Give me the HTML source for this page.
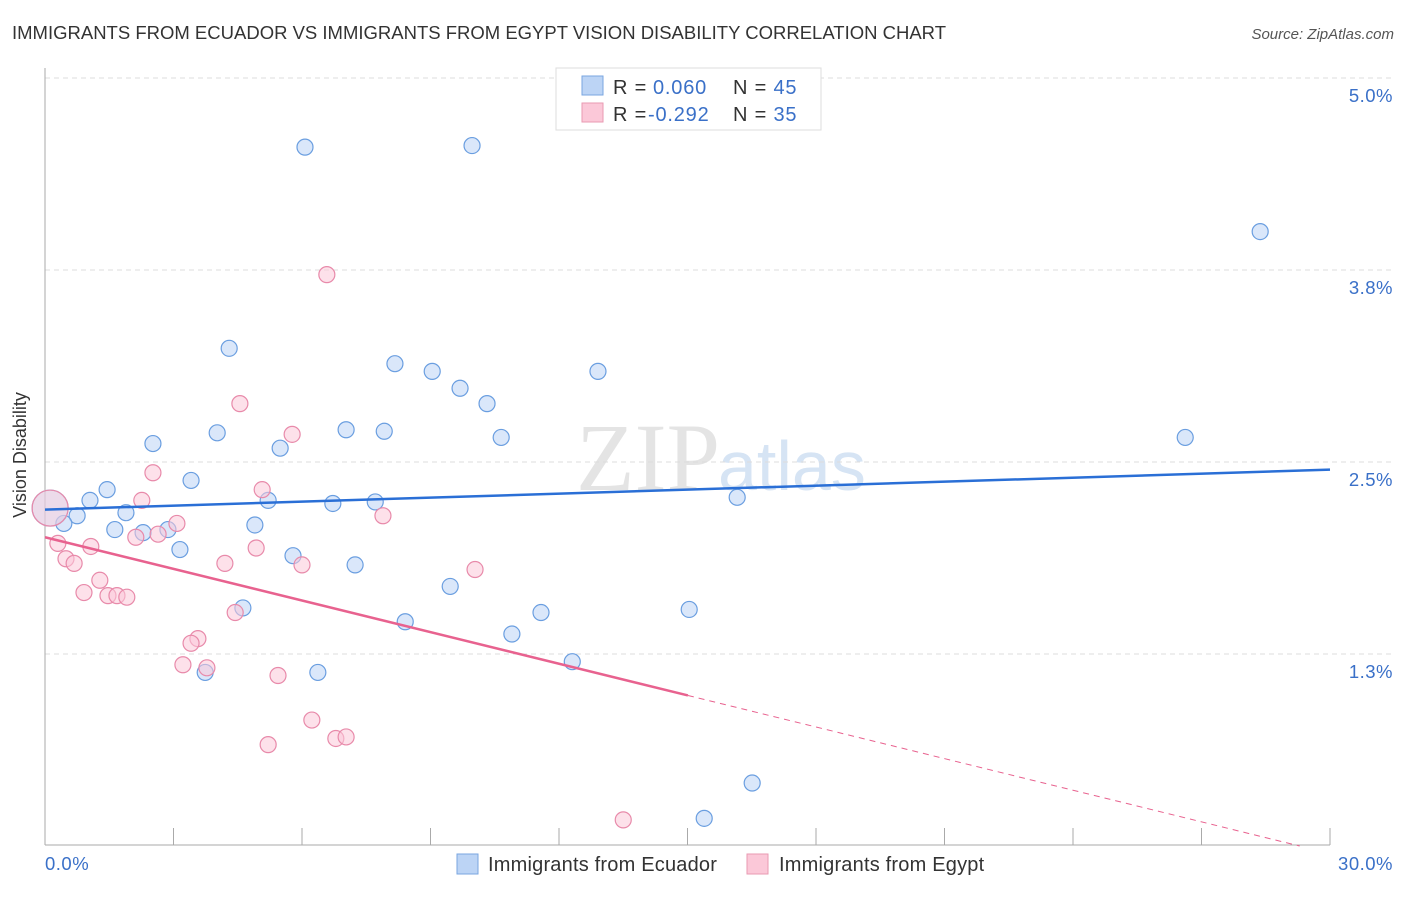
<!DOCTYPE html>
<html><head><meta charset="utf-8"><style>
body{margin:0;background:#fff;font-family:"Liberation Sans",sans-serif}
</style></head><body>
<svg width="1406" height="892" font-family="Liberation Sans, sans-serif">
<text x="12" y="39" font-size="18.5" fill="#333">IMMIGRANTS FROM ECUADOR VS IMMIGRANTS FROM EGYPT VISION DISABILITY CORRELATION CHART</text>
<text x="1394" y="39" font-size="15" fill="#555" text-anchor="end" font-style="italic">Source: ZipAtlas.com</text>
<text x="720" y="490" font-size="96" fill="#e4e4e4" text-anchor="end" font-family="Liberation Serif, serif">ZIP</text>
<text x="718" y="490" font-size="70" fill="#d6e4f4">atlas</text>
<g id="grid"></g>
<line x1="45" y1="68" x2="45" y2="845" stroke="#aaa"/>
<line x1="45" y1="845" x2="1330" y2="845" stroke="#aaa"/>
<text x="26" y="455" font-size="18" fill="#333" text-anchor="middle" transform="rotate(-90 26 455)">Vision Disability</text>
<text x="45" y="870" font-size="18.5" fill="#3a70c8" letter-spacing="0.5">0.0%</text>
<text x="1393" y="870" font-size="18.5" fill="#3a70c8" text-anchor="end" letter-spacing="0.5">30.0%</text>
<g id="ticks"></g>
<g id="pts"></g>
<g id="lines"></g>
<g>
<rect x="556" y="68" width="265" height="62" fill="#fff" stroke="#ddd"/>
<rect x="582" y="76" width="21" height="19" fill="#bcd4f5" stroke="#7aa6e0"/>
<rect x="582" y="103" width="21" height="19" fill="#fbc8d8" stroke="#e89ab2"/>
<text x="613" y="94" font-size="20" fill="#333" letter-spacing="0.8">R = <tspan fill="#3a70c8" x="653">0.060</tspan><tspan x="733" fill="#333">N = </tspan><tspan fill="#3a70c8">45</tspan></text>
<text x="613" y="121" font-size="20" fill="#333" letter-spacing="0.8">R = <tspan fill="#3a70c8" x="648">-0.292</tspan><tspan x="733" fill="#333">N = </tspan><tspan fill="#3a70c8">35</tspan></text>
</g>
<g>
<rect x="457" y="854" width="21" height="20" fill="#bcd4f5" stroke="#7aa6e0"/>
<text x="488" y="871" font-size="20" fill="#333" letter-spacing="0.2">Immigrants from Ecuador</text></g>
<g>
<rect x="747" y="854" width="21" height="20" fill="#fbc8d8" stroke="#e89ab2"/>
<text x="779" y="871" font-size="20" fill="#333" letter-spacing="0.2">Immigrants from Egypt</text></g>
</svg>
<script>
const yTicks=[1.25,2.5,3.75,5.0];
const yTickLabels=["1.3%","2.5%","3.8%","5.0%"];
const xTicks=[0,3,6,9,12,15,18,21,24,27,30];
const ecuadorX=[6.07,9.97,28.37,4.30,8.17,9.04,12.91,9.69,10.32,2.52,4.02,7.03,7.92,10.65,26.62,5.49,1.45,3.41,1.05,0.75,0.44,1.89,5.21,6.72,7.71,16.16,1.63,2.29,2.87,4.90,3.15,5.79,7.24,9.46,4.62,8.41,11.58,15.04,10.90,12.31,3.74,6.37,16.51,15.39,0.12];
const ecuadorY=[4.55,4.56,4.00,3.24,3.14,3.09,3.09,2.98,2.88,2.62,2.69,2.71,2.70,2.66,2.66,2.59,2.32,2.38,2.25,2.15,2.10,2.17,2.25,2.23,2.24,2.27,2.06,2.04,2.06,2.09,1.93,1.89,1.83,1.69,1.55,1.46,1.52,1.54,1.38,1.20,1.13,1.13,0.41,0.18,2.20];
const egyptX=[6.58,4.55,5.77,2.52,5.07,2.26,7.89,3.08,2.12,2.64,0.30,1.07,4.93,0.49,0.68,4.20,6.00,10.04,1.28,0.91,1.47,1.68,1.91,4.44,3.57,3.41,3.22,3.78,5.44,6.23,6.79,7.03,5.21,13.50,0.12];
const egyptY=[3.72,2.88,2.68,2.43,2.32,2.25,2.15,2.10,2.01,2.03,1.97,1.95,1.94,1.87,1.84,1.84,1.83,1.80,1.73,1.65,1.63,1.63,1.62,1.52,1.35,1.32,1.18,1.16,1.11,0.82,0.70,0.71,0.66,0.17,2.20];
const ecuadorTrend=[2.19,2.45];
const egyptTrend=[2.01,0.98,15.01,0];
const sx=v=>45+v*1285/30, sy=v=>846-v*153.6;
const NS="http://www.w3.org/2000/svg";
function mk(t,a,p){const e=document.createElementNS(NS,t);for(const k in a)e.setAttribute(k,a[k]);document.getElementById(p).appendChild(e);return e;}
yTicks.forEach((t,i)=>{
 const l=mk('line',{x1:45,x2:1393,y1:sy(t),y2:sy(t),stroke:'#ddd','stroke-dasharray':'5,4'},'grid');
 
 
 const tx=mk('text',{x:1393,y:sy(t)+24,'font-size':18.5,fill:'#3a70c8','text-anchor':'end','letter-spacing':0.5},'grid');
 tx.textContent=yTickLabels[i];
 
 
});
xTicks.forEach(t=>{
 const l=mk('line',{x1:sx(t),x2:sx(t),y1:828,y2:845,stroke:'#aaa'},'ticks');
 
 
});
function pts(X,Y,fill,stroke,name){
 X.forEach((x,i)=>{
  const big=i===X.length-1;
  const c=mk('circle',{cx:sx(x),cy:sy(Y[i]),r:big?18:8,fill:fill,'fill-opacity':big?0.45:0.55,stroke:stroke,'stroke-width':1.2},'pts');
  
  
 });
}
pts(ecuadorX,ecuadorY,'#bcd4f5','#6a9ee0','ecuador-point');
pts(egyptX,egyptY,'#fbc8d8','#e88aaa','egypt-point');
let l=mk('line',{x1:sx(0),y1:sy(ecuadorTrend[0]),x2:sx(30),y2:sy(ecuadorTrend[1]),stroke:'#2a6fd6','stroke-width':2.5},'lines');


l=mk('line',{x1:sx(0),y1:sy(egyptTrend[0]),x2:sx(egyptTrend[2]),y2:sy(egyptTrend[1]),stroke:'#e8628f','stroke-width':2.5},'lines');


const slope=(egyptTrend[1]-egyptTrend[0])/egyptTrend[2];
const xEnd=-egyptTrend[0]/slope;
l=mk('line',{x1:sx(egyptTrend[2]),y1:sy(egyptTrend[1]),x2:sx(xEnd),y2:sy(egyptTrend[3]),stroke:'#e8628f','stroke-width':1,'stroke-dasharray':'6,5'},'lines');


</script>
</body></html>
